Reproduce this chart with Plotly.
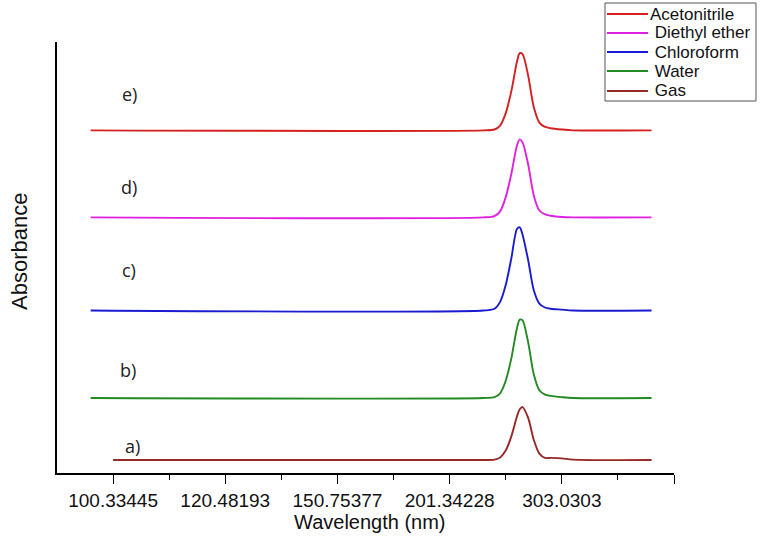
import plotly.graph_objects as go

# ---- data (x in axis position units, y in arbitrary absorbance units incl. stacking offset) ----
tick_positions = [0, 2, 4, 6, 8, 10]
tick_labels = ["100.33445", "120.48193", "150.75377", "201.34228", "303.0303", ""]
minor_positions = [1, 3, 5, 7, 9]

grid_x = [-0.4, 6.6, 6.8, 6.9, 7.0, 7.1, 7.2, 7.25, 7.3, 7.4, 7.5, 7.6, 7.7, 7.8, 8.0, 8.2, 9.6]
gas_x = [0.0, 6.6, 6.8, 6.9, 7.0, 7.1, 7.2, 7.25, 7.3, 7.4, 7.5, 7.6, 7.7, 7.8, 8.0, 8.2, 9.6]

gas_y = [0.030, 0.030, 0.031, 0.036, 0.052, 0.085, 0.131, 0.148, 0.153, 0.128, 0.077, 0.045, 0.035, 0.035, 0.034, 0.031, 0.030]
water_y = [0.174, 0.174, 0.176, 0.185, 0.214, 0.266, 0.336, 0.356, 0.354, 0.303, 0.229, 0.192, 0.182, 0.179, 0.176, 0.174, 0.174]
chloroform_y = [0.377, 0.377, 0.381, 0.397, 0.436, 0.498, 0.566, 0.570, 0.553, 0.494, 0.424, 0.393, 0.384, 0.381, 0.379, 0.377, 0.377]
diethyl_y = [0.593, 0.593, 0.596, 0.607, 0.640, 0.694, 0.760, 0.774, 0.767, 0.716, 0.644, 0.609, 0.600, 0.597, 0.594, 0.593, 0.593]
acetonitrile_y = [0.795, 0.795, 0.797, 0.806, 0.835, 0.886, 0.954, 0.974, 0.972, 0.922, 0.849, 0.813, 0.803, 0.800, 0.797, 0.795, 0.795]

series_names = ["Acetonitrile", "Diethyl ether", "Chloroform", "Water", "Gas"]
series_colors = ["#d42020", "#e020e0", "#1a1ad0", "#238a23", "#962828"]
series_x = [grid_x, grid_x, grid_x, grid_x, gas_x]
series_y = [acetonitrile_y, diethyl_y, chloroform_y, water_y, gas_y]
panel_labels = ["e)", "d)", "c)", "b)", "a)"]

# layout geometry (pixels)
W, H = 762, 551
L, R, T, B = 57, 88, 42, 78
PW, PH = W - L - R, H - T - B


def px_x(p):
    return (p - L) / PW


def px_y(p):
    return (H - B - p) / PH


label_px = [(129, 94), (129, 187), (129, 270), (128, 370), (132, 446)]

fig = go.Figure()
for name, col, xs, ys in zip(series_names, series_colors, series_x, series_y):
    fig.add_trace(go.Scatter(
        x=xs, y=ys, mode="lines", name=name,
        line=dict(color=col, width=1.9, shape="spline", smoothing=0.8),
    ))

for lab, (lx, ly) in zip(panel_labels, label_px):
    fig.add_annotation(xref="paper", yref="paper", x=px_x(lx), y=px_y(ly),
                       text=lab, showarrow=False, xanchor="center", yanchor="middle",
                       font=dict(family="Open Sans", size=18, color="#222"))

fig.add_annotation(xref="paper", yref="paper", x=px_x(370), y=px_y(522),
                   text="Wavelength (nm)", showarrow=False,
                   xanchor="center", yanchor="middle",
                   font=dict(family="Arial, Liberation Sans", size=20, color="#111"))
fig.add_annotation(xref="paper", yref="paper", x=px_x(19), y=px_y(252),
                   text="Absorbance", showarrow=False, textangle=-90,
                   xanchor="center", yanchor="middle",
                   font=dict(family="Arial, Liberation Sans", size=22, color="#111"))

# legend box drawn in paper coordinates
fig.add_shape(type="rect", xref="paper", yref="paper",
              x0=px_x(605), x1=px_x(756), y0=px_y(101), y1=px_y(3),
              line=dict(color="#555", width=1), fillcolor="white", layer="above")
leg_y = [14, 33, 52, 71, 91]
for name, col, ly in zip(series_names, series_colors, leg_y):
    fig.add_shape(type="line", xref="paper", yref="paper",
                  x0=px_x(607), x1=px_x(648), y0=px_y(ly), y1=px_y(ly),
                  line=dict(color=col, width=2), layer="above")
    fig.add_annotation(xref="paper", yref="paper", x=px_x(648), y=px_y(ly),
                       text=name if name == "Acetonitrile" else " " + name,
                       showarrow=False, xanchor="left", yanchor="middle",
                       font=dict(family="Arial, Liberation Sans", size=17, color="#111"))

fig.update_layout(
    width=W, height=H,
    margin=dict(l=L, r=R, t=T, b=B),
    paper_bgcolor="white", plot_bgcolor="white",
    showlegend=False,
    xaxis=dict(range=[-1, 10], showgrid=False, zeroline=False,
               showline=True, linecolor="black", linewidth=1.6,
               tickmode="array", tickvals=tick_positions, ticktext=tick_labels,
               ticks="outside", ticklen=9, tickwidth=1.3, tickcolor="black",
               tickfont=dict(family="Arial, Liberation Sans", size=19, color="#111"),
               minor=dict(tickvals=minor_positions, ticks="outside", ticklen=5,
                          tickwidth=1.2, tickcolor="black", showgrid=False)),
    yaxis=dict(range=[0, 1], showgrid=False, zeroline=False,
               showline=True, linecolor="black", linewidth=1.6,
               showticklabels=False, ticks=""),
)

fig.write_html("out.html", config={"displayModeBar": False},
               post_script="document.body.style.margin='0px';")
